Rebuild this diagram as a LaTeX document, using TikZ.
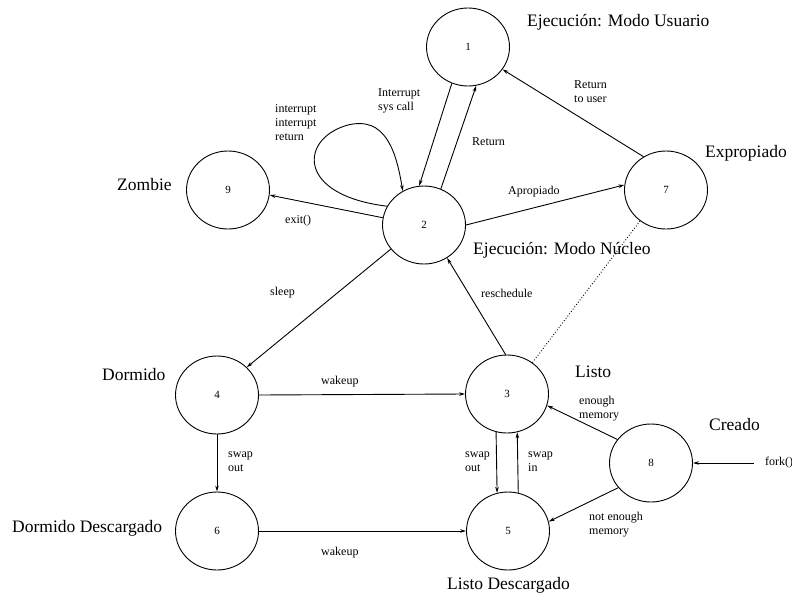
\documentclass[tikz,border=0pt]{standalone}
\usepackage{fontspec}
\setmainfont{Liberation Serif}
\newfontfamily\statefont{Liberation Serif}
\usetikzlibrary{arrows.meta,shapes.geometric}
\begin{document}
\begin{tikzpicture}[x=1pt,y=-1pt,
  state/.style={draw, ellipse, line width=0.9pt, minimum width=83pt, minimum height=78pt,
    inner sep=0pt, font=\statefont\fontsize{11}{13}\selectfont},
  title/.style={anchor=west, inner sep=0pt, font=\statefont\fontsize{17.5}{20}\selectfont},
  lbl/.style={anchor=west, inner sep=0pt, align=left, font=\statefont\fontsize{12}{14.2}\selectfont},
  tr/.style={line width=0.9pt, -{Stealth[length=6pt,width=3.5pt]}},
  link/.style={line width=0.9pt, dotted}]
\useasboundingbox (0,0) rectangle (792,597);

% states
\node[state] (n1) at (468,47)  {1};
\node[state] (n2) at (424,225) {2};
\node[state] (n9) at (228,190) {9};
\node[state] (n7) at (666,190) {7};
\node[state] (n4) at (217,395) {4};
\node[state] (n3) at (507,394) {3};
\node[state] (n6) at (217,531) {6};
\node[state] (n5) at (508,531) {5};
\node[state] (n8) at (651,463) {8};

% state names
\node[title] (t1) at (527,22)  {Ejecución: Modo Usuario};
\node[title] (t9) at (117,185) {Zombie};
\node[title] (t7) at (705,153) {Expropiado};
\node[title] (t2) at (473,250) {Ejecución: Modo Núcleo};
\node[title] (t4) at (102,375) {Dormido};
\node[title] (t6) at (12,528)  {Dormido Descargado};
\node[title] (t3) at (575,372) {Listo};
\node[title] (t8) at (709,425) {Creado};
\node[title] (t5) at (447,585) {Listo Descargado};

% transitions
\draw[tr] (n1.246) -- (n2.97);
\draw[tr] (n2.65) -- (n1.282);
\draw[tr] (n2.153) .. controls (295,195) and (300,138) .. (348,125)
                   .. controls (385,116) and (396,150) .. (n2.122);
\draw[tr] (n2.170) -- (n9.353);
\draw[tr] (n2.0) -- (n7.173);
\draw[tr] (n7.124) -- (n1.327);
\draw[link] (n7.230) -- (n3.51);
\draw[tr] (n2.216) -- (n4.43);
\draw[tr] (n3.92) -- (n2.305);
\draw[tr] (n4.east) -- (n3.west);
\draw[tr] (n4.south) -- (n6.north);
\draw[tr] (n6.east) -- (n5.west);
\draw[tr] (n3.254) -- (n5.106);
\draw[tr] (n5.75) -- (n3.285);
\draw[tr] (n8.145) -- (n3.344);
\draw[tr] (n8.217) -- (n5.13);
\node[lbl] (fork) at (765,463) {fork()};
\coordinate (forkin) at (754,463);
\draw[tr] (forkin) -- (n8.east);

% transition labels
\node[lbl] (l12) at (378,101)   {Interrupt\\sys call};
\node[lbl] (l22) at (275,122.5) {interrupt\\interrupt\\return};
\node[lbl] (l21) at (472,142)   {Return};
\node[lbl] (l71) at (574,92)    {Return\\to user};
\node[lbl] (l27) at (508,192)   {Apropiado};
\node[lbl] (l29) at (285,221)   {exit()};
\node[lbl] (l24) at (270,293)   {sleep};
\node[lbl] (l32) at (481,293)   {reschedule};
\node[lbl] (l43) at (321,382)   {wakeup};
\node[lbl] (l46) at (228,462)   {swap\\out};
\node[lbl] (l35) at (465,462)   {swap\\out};
\node[lbl] (l53) at (528,462)   {swap\\in};
\node[lbl] (l83) at (579,408.5) {enough\\memory};
\node[lbl] (l85) at (589,524.5) {not enough\\memory};
\node[lbl] (l65) at (321,553)   {wakeup};
\end{tikzpicture}
\end{document}
